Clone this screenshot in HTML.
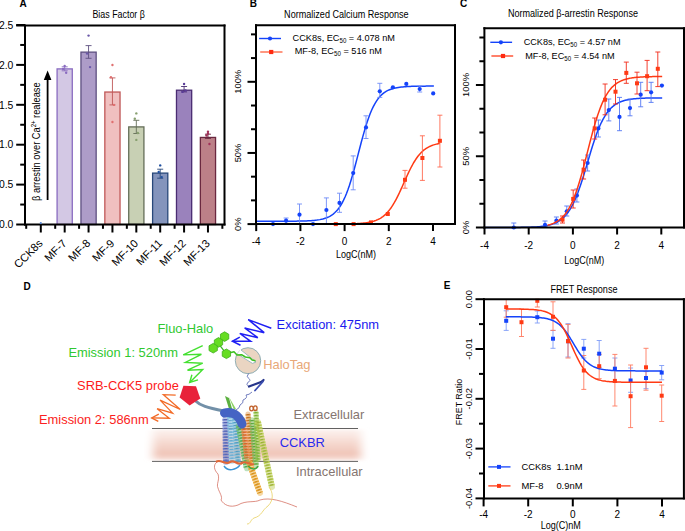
<!DOCTYPE html>
<html><head><meta charset="utf-8"><style>
html,body{margin:0;padding:0;background:#fff;width:685px;height:531px;overflow:hidden}
svg{display:block}
text{font-family:"Liberation Sans", sans-serif}
</style></head><body>
<svg width="685" height="531" viewBox="0 0 685 531" font-family='"Liberation Sans", sans-serif'>
<text x="19.60" y="7.20" font-size="10" text-anchor="start" fill="#000" font-weight="bold" >A</text>
<text x="92.40" y="17.70" font-size="10.2" text-anchor="start" fill="#000" font-weight="normal" textLength="52.5" lengthAdjust="spacingAndGlyphs">Bias Factor β</text>
<rect x="57.08" y="68.89" width="15.2" height="155.61" fill="#d3c8e4" stroke="#8a6cc0" stroke-width="1.3"/>
<line x1="64.68" y1="66.80" x2="64.68" y2="70.80" stroke="#8a6cc0" stroke-width="0.9" />
<line x1="61.68" y1="66.80" x2="67.68" y2="66.80" stroke="#8a6cc0" stroke-width="0.9" />
<line x1="61.68" y1="70.80" x2="67.68" y2="70.80" stroke="#8a6cc0" stroke-width="0.9" />
<circle cx="64.68" cy="66.00" r="1.2" fill="#8a6cc0"/>
<circle cx="63.18" cy="68.90" r="1.2" fill="#8a6cc0"/>
<circle cx="66.18" cy="72.80" r="1.2" fill="#8a6cc0"/>
<rect x="80.96" y="52.13" width="15.2" height="172.37" fill="#ad9cc8" stroke="#5e5080" stroke-width="1.3"/>
<line x1="88.56" y1="45.60" x2="88.56" y2="58.30" stroke="#5e5080" stroke-width="0.9" />
<line x1="85.56" y1="45.60" x2="91.56" y2="45.60" stroke="#5e5080" stroke-width="0.9" />
<line x1="85.56" y1="58.30" x2="91.56" y2="58.30" stroke="#5e5080" stroke-width="0.9" />
<circle cx="88.56" cy="35.60" r="1.2" fill="#6a58a8"/>
<circle cx="87.06" cy="53.60" r="1.2" fill="#6a58a8"/>
<circle cx="90.06" cy="67.10" r="1.2" fill="#6a58a8"/>
<rect x="104.84" y="92.03" width="15.2" height="132.47" fill="#f0c0c0" stroke="#c05858" stroke-width="1.3"/>
<line x1="112.44" y1="77.90" x2="112.44" y2="104.90" stroke="#c05858" stroke-width="0.9" />
<line x1="109.44" y1="77.90" x2="115.44" y2="77.90" stroke="#c05858" stroke-width="0.9" />
<line x1="109.44" y1="104.90" x2="115.44" y2="104.90" stroke="#c05858" stroke-width="0.9" />
<circle cx="112.44" cy="65.00" r="1.2" fill="#e07070"/>
<circle cx="110.94" cy="77.20" r="1.2" fill="#e07070"/>
<circle cx="113.94" cy="104.90" r="1.2" fill="#e07070"/>
<circle cx="112.44" cy="122.00" r="1.2" fill="#e07070"/>
<rect x="128.72" y="126.90" width="15.2" height="97.60" fill="#c8d0b4" stroke="#646e58" stroke-width="1.3"/>
<line x1="136.32" y1="120.30" x2="136.32" y2="133.50" stroke="#646e58" stroke-width="0.9" />
<line x1="133.32" y1="120.30" x2="139.32" y2="120.30" stroke="#646e58" stroke-width="0.9" />
<line x1="133.32" y1="133.50" x2="139.32" y2="133.50" stroke="#646e58" stroke-width="0.9" />
<circle cx="136.32" cy="113.40" r="1.2" fill="#88a070"/>
<circle cx="134.82" cy="118.80" r="1.2" fill="#88a070"/>
<circle cx="137.82" cy="133.00" r="1.2" fill="#88a070"/>
<circle cx="136.32" cy="139.90" r="1.2" fill="#88a070"/>
<rect x="152.60" y="173.11" width="15.2" height="51.39" fill="#8494bc" stroke="#28487a" stroke-width="1.3"/>
<line x1="160.20" y1="169.20" x2="160.20" y2="178.20" stroke="#28487a" stroke-width="0.9" />
<line x1="157.20" y1="169.20" x2="163.20" y2="169.20" stroke="#28487a" stroke-width="0.9" />
<line x1="157.20" y1="178.20" x2="163.20" y2="178.20" stroke="#28487a" stroke-width="0.9" />
<circle cx="160.20" cy="165.40" r="1.2" fill="#2050a0"/>
<circle cx="158.70" cy="172.00" r="1.2" fill="#2050a0"/>
<circle cx="161.70" cy="177.10" r="1.2" fill="#2050a0"/>
<rect x="176.48" y="90.20" width="15.2" height="134.30" fill="#9a82bc" stroke="#4a2c72" stroke-width="1.3"/>
<line x1="184.08" y1="86.50" x2="184.08" y2="91.90" stroke="#4a2c72" stroke-width="0.9" />
<line x1="181.08" y1="86.50" x2="187.08" y2="86.50" stroke="#4a2c72" stroke-width="0.9" />
<line x1="181.08" y1="91.90" x2="187.08" y2="91.90" stroke="#4a2c72" stroke-width="0.9" />
<circle cx="184.08" cy="84.00" r="1.2" fill="#5a3c98"/>
<circle cx="182.58" cy="91.90" r="1.2" fill="#5a3c98"/>
<circle cx="185.58" cy="90.50" r="1.2" fill="#5a3c98"/>
<rect x="200.36" y="137.44" width="15.2" height="87.06" fill="#bc8088" stroke="#6a2840" stroke-width="1.3"/>
<line x1="207.96" y1="134.20" x2="207.96" y2="138.40" stroke="#6a2840" stroke-width="0.9" />
<line x1="204.96" y1="134.20" x2="210.96" y2="134.20" stroke="#6a2840" stroke-width="0.9" />
<line x1="204.96" y1="138.40" x2="210.96" y2="138.40" stroke="#6a2840" stroke-width="0.9" />
<circle cx="207.96" cy="131.80" r="1.2" fill="#a03058"/>
<circle cx="206.46" cy="135.50" r="1.2" fill="#a03058"/>
<circle cx="209.46" cy="144.00" r="1.2" fill="#a03058"/>
<circle cx="207.96" cy="133.50" r="1.2" fill="#a03058"/>
<line x1="25.00" y1="24.50" x2="25.00" y2="225.50" stroke="#000" stroke-width="2" />
<line x1="16.20" y1="25.50" x2="225.50" y2="25.50" stroke="#000" stroke-width="2" />
<line x1="224.50" y1="24.50" x2="224.50" y2="225.50" stroke="#000" stroke-width="2" />
<line x1="24.00" y1="224.50" x2="225.50" y2="224.50" stroke="#000" stroke-width="2" />
<circle cx="40.80" cy="223.2" r="1.1" fill="#5a88d0"/>
<line x1="16.20" y1="224.50" x2="25.00" y2="224.50" stroke="#000" stroke-width="2" />
<text x="13.40" y="228.20" font-size="10.4" text-anchor="end" fill="#000" font-weight="normal" >0.0</text>
<line x1="16.20" y1="184.60" x2="25.00" y2="184.60" stroke="#000" stroke-width="2" />
<text x="13.40" y="188.30" font-size="10.4" text-anchor="end" fill="#000" font-weight="normal" >0.5</text>
<line x1="16.20" y1="144.70" x2="25.00" y2="144.70" stroke="#000" stroke-width="2" />
<text x="13.40" y="148.40" font-size="10.4" text-anchor="end" fill="#000" font-weight="normal" >1.0</text>
<line x1="16.20" y1="104.80" x2="25.00" y2="104.80" stroke="#000" stroke-width="2" />
<text x="13.40" y="108.50" font-size="10.4" text-anchor="end" fill="#000" font-weight="normal" >1.5</text>
<line x1="16.20" y1="64.90" x2="25.00" y2="64.90" stroke="#000" stroke-width="2" />
<text x="13.40" y="68.60" font-size="10.4" text-anchor="end" fill="#000" font-weight="normal" >2.0</text>
<line x1="16.20" y1="25.00" x2="25.00" y2="25.00" stroke="#000" stroke-width="2" />
<text x="13.40" y="28.70" font-size="10.4" text-anchor="end" fill="#000" font-weight="normal" >2.5</text>
<line x1="20.20" y1="204.55" x2="25.00" y2="204.55" stroke="#000" stroke-width="2" />
<line x1="20.20" y1="164.65" x2="25.00" y2="164.65" stroke="#000" stroke-width="2" />
<line x1="20.20" y1="124.75" x2="25.00" y2="124.75" stroke="#000" stroke-width="2" />
<line x1="20.20" y1="84.85" x2="25.00" y2="84.85" stroke="#000" stroke-width="2" />
<line x1="20.20" y1="44.95" x2="25.00" y2="44.95" stroke="#000" stroke-width="2" />
<line x1="40.80" y1="224.50" x2="40.80" y2="232.50" stroke="#000" stroke-width="2" />
<line x1="55.20" y1="224.50" x2="55.20" y2="228.80" stroke="#000" stroke-width="2" />
<text x="43.40" y="244.00" font-size="11.1" text-anchor="end" fill="#000" font-weight="normal" transform="rotate(-45 43.4 244.0)" >CCK8s</text>
<line x1="64.68" y1="224.50" x2="64.68" y2="232.50" stroke="#000" stroke-width="2" />
<line x1="79.08" y1="224.50" x2="79.08" y2="228.80" stroke="#000" stroke-width="2" />
<text x="67.28" y="244.00" font-size="11.1" text-anchor="end" fill="#000" font-weight="normal" transform="rotate(-45 67.27999999999999 244.0)" >MF-7</text>
<line x1="88.56" y1="224.50" x2="88.56" y2="232.50" stroke="#000" stroke-width="2" />
<line x1="102.96" y1="224.50" x2="102.96" y2="228.80" stroke="#000" stroke-width="2" />
<text x="91.16" y="244.00" font-size="11.1" text-anchor="end" fill="#000" font-weight="normal" transform="rotate(-45 91.16 244.0)" >MF-8</text>
<line x1="112.44" y1="224.50" x2="112.44" y2="232.50" stroke="#000" stroke-width="2" />
<line x1="126.84" y1="224.50" x2="126.84" y2="228.80" stroke="#000" stroke-width="2" />
<text x="115.04" y="244.00" font-size="11.1" text-anchor="end" fill="#000" font-weight="normal" transform="rotate(-45 115.03999999999999 244.0)" >MF-9</text>
<line x1="136.32" y1="224.50" x2="136.32" y2="232.50" stroke="#000" stroke-width="2" />
<line x1="150.72" y1="224.50" x2="150.72" y2="228.80" stroke="#000" stroke-width="2" />
<text x="138.92" y="244.00" font-size="11.1" text-anchor="end" fill="#000" font-weight="normal" transform="rotate(-45 138.92 244.0)" >MF-10</text>
<line x1="160.20" y1="224.50" x2="160.20" y2="232.50" stroke="#000" stroke-width="2" />
<line x1="174.60" y1="224.50" x2="174.60" y2="228.80" stroke="#000" stroke-width="2" />
<text x="162.80" y="244.00" font-size="11.1" text-anchor="end" fill="#000" font-weight="normal" transform="rotate(-45 162.79999999999998 244.0)" >MF-11</text>
<line x1="184.08" y1="224.50" x2="184.08" y2="232.50" stroke="#000" stroke-width="2" />
<line x1="198.48" y1="224.50" x2="198.48" y2="228.80" stroke="#000" stroke-width="2" />
<text x="186.68" y="244.00" font-size="11.1" text-anchor="end" fill="#000" font-weight="normal" transform="rotate(-45 186.67999999999998 244.0)" >MF-12</text>
<line x1="207.96" y1="224.50" x2="207.96" y2="232.50" stroke="#000" stroke-width="2" />
<line x1="222.36" y1="224.50" x2="222.36" y2="228.80" stroke="#000" stroke-width="2" />
<text x="210.56" y="244.00" font-size="11.1" text-anchor="end" fill="#000" font-weight="normal" transform="rotate(-45 210.55999999999997 244.0)" >MF-13</text>
<line x1="26.20" y1="224.50" x2="26.20" y2="228.80" stroke="#000" stroke-width="2" />
<text x="40.5" y="201.2" font-size="10.4" textLength="118.6" lengthAdjust="spacingAndGlyphs" transform="rotate(-90 40.3 201.2)" fill="#000">β arrestin over Ca<tspan font-size="6.8" dy="-4.3">2+</tspan><tspan dy="4.3"> realease</tspan></text>
<line x1="47.60" y1="79.00" x2="47.60" y2="200.00" stroke="#000" stroke-width="1.8" />
<polygon points="47.6,70.5 43.8,80 51.4,80" fill="#000"/>
<text x="249.80" y="7.00" font-size="10" text-anchor="start" fill="#000" font-weight="bold" >B</text>
<text x="284.10" y="17.80" font-size="10" text-anchor="start" fill="#000" font-weight="normal" textLength="124.5" lengthAdjust="spacingAndGlyphs">Normalized Calcium Response</text>
<polyline points="256.20,221.25 257.68,221.25 259.16,221.25 260.64,221.25 262.12,221.25 263.60,221.25 265.08,221.25 266.56,221.25 268.05,221.25 269.53,221.25 271.01,221.25 272.49,221.25 273.97,221.25 275.45,221.24 276.93,221.24 278.41,221.24 279.89,221.24 281.37,221.23 282.85,221.23 284.33,221.23 285.81,221.22 287.29,221.21 288.78,221.21 290.26,221.20 291.74,221.19 293.22,221.18 294.70,221.16 296.18,221.14 297.66,221.12 299.14,221.10 300.62,221.07 302.10,221.04 303.58,221.00 305.06,220.95 306.54,220.90 308.02,220.83 309.51,220.75 310.99,220.66 312.47,220.55 313.95,220.42 315.43,220.27 316.91,220.09 318.39,219.87 319.87,219.62 321.35,219.32 322.83,218.97 324.31,218.56 325.79,218.07 327.27,217.50 328.75,216.83 330.24,216.04 331.72,215.12 333.20,214.05 334.68,212.80 336.16,211.35 337.64,209.68 339.12,207.75 340.60,205.54 342.08,203.03 343.56,200.18 345.04,196.99 346.52,193.42 348.00,189.49 349.48,185.18 350.96,180.52 352.45,175.53 353.93,170.26 355.41,164.77 356.89,159.13 358.37,153.40 359.85,147.69 361.33,142.05 362.81,136.58 364.29,131.33 365.77,126.38 367.25,121.74 368.73,117.47 370.21,113.57 371.69,110.03 373.18,106.87 374.66,104.05 376.14,101.57 377.62,99.39 379.10,97.48 380.58,95.83 382.06,94.40 383.54,93.17 385.02,92.11 386.50,91.20 387.98,90.43 389.46,89.77 390.94,89.20 392.42,88.72 393.91,88.32 395.39,87.97 396.87,87.68 398.35,87.43 399.83,87.22 401.31,87.04 402.79,86.89 404.27,86.76 405.75,86.65 407.23,86.56 408.71,86.49 410.19,86.42 411.67,86.37 413.15,86.32 414.63,86.28 416.12,86.25 417.60,86.22 419.08,86.20 420.56,86.18 422.04,86.16 423.52,86.15 425.00,86.13 426.48,86.12 427.96,86.12 429.44,86.11 430.92,86.10 432.40,86.10 433.88,86.09" fill="none" stroke="#1443fa" stroke-width="1.5"/>
<g stroke="#6f8cf7" stroke-width="0.9">
<line x1="286.10" y1="218.00" x2="286.10" y2="223.50" stroke="#6f8cf7" stroke-width="0.9" />
<line x1="283.60" y1="218.00" x2="288.60" y2="218.00" stroke="#6f8cf7" stroke-width="0.9" />
<line x1="283.60" y1="223.50" x2="288.60" y2="223.50" stroke="#6f8cf7" stroke-width="0.9" />
</g>
<g stroke="#6f8cf7" stroke-width="0.9">
<line x1="299.50" y1="204.00" x2="299.50" y2="224.00" stroke="#6f8cf7" stroke-width="0.9" />
<line x1="297.00" y1="204.00" x2="302.00" y2="204.00" stroke="#6f8cf7" stroke-width="0.9" />
<line x1="297.00" y1="224.00" x2="302.00" y2="224.00" stroke="#6f8cf7" stroke-width="0.9" />
</g>
<g stroke="#6f8cf7" stroke-width="0.9">
<line x1="326.40" y1="197.90" x2="326.40" y2="224.00" stroke="#6f8cf7" stroke-width="0.9" />
<line x1="323.90" y1="197.90" x2="328.90" y2="197.90" stroke="#6f8cf7" stroke-width="0.9" />
<line x1="323.90" y1="224.00" x2="328.90" y2="224.00" stroke="#6f8cf7" stroke-width="0.9" />
</g>
<g stroke="#6f8cf7" stroke-width="0.9">
<line x1="339.50" y1="193.20" x2="339.50" y2="212.30" stroke="#6f8cf7" stroke-width="0.9" />
<line x1="337.00" y1="193.20" x2="342.00" y2="193.20" stroke="#6f8cf7" stroke-width="0.9" />
<line x1="337.00" y1="212.30" x2="342.00" y2="212.30" stroke="#6f8cf7" stroke-width="0.9" />
</g>
<g stroke="#6f8cf7" stroke-width="0.9">
<line x1="353.20" y1="155.90" x2="353.20" y2="189.80" stroke="#6f8cf7" stroke-width="0.9" />
<line x1="350.70" y1="155.90" x2="355.70" y2="155.90" stroke="#6f8cf7" stroke-width="0.9" />
<line x1="350.70" y1="189.80" x2="355.70" y2="189.80" stroke="#6f8cf7" stroke-width="0.9" />
</g>
<g stroke="#6f8cf7" stroke-width="0.9">
<line x1="366.00" y1="115.80" x2="366.00" y2="138.50" stroke="#6f8cf7" stroke-width="0.9" />
<line x1="363.50" y1="115.80" x2="368.50" y2="115.80" stroke="#6f8cf7" stroke-width="0.9" />
<line x1="363.50" y1="138.50" x2="368.50" y2="138.50" stroke="#6f8cf7" stroke-width="0.9" />
</g>
<g stroke="#6f8cf7" stroke-width="0.9">
<line x1="379.80" y1="83.30" x2="379.80" y2="97.40" stroke="#6f8cf7" stroke-width="0.9" />
<line x1="377.30" y1="83.30" x2="382.30" y2="83.30" stroke="#6f8cf7" stroke-width="0.9" />
<line x1="377.30" y1="97.40" x2="382.30" y2="97.40" stroke="#6f8cf7" stroke-width="0.9" />
</g>
<g stroke="#6f8cf7" stroke-width="0.9">
<line x1="419.70" y1="86.00" x2="419.70" y2="92.00" stroke="#6f8cf7" stroke-width="0.9" />
<line x1="417.20" y1="86.00" x2="422.20" y2="86.00" stroke="#6f8cf7" stroke-width="0.9" />
<line x1="417.20" y1="92.00" x2="422.20" y2="92.00" stroke="#6f8cf7" stroke-width="0.9" />
</g>
<circle cx="273.00" cy="224.10" r="2.1" fill="#1443fa"/>
<circle cx="286.10" cy="220.70" r="2.1" fill="#1443fa"/>
<circle cx="299.50" cy="214.70" r="2.1" fill="#1443fa"/>
<circle cx="313.00" cy="224.10" r="2.1" fill="#1443fa"/>
<circle cx="326.40" cy="210.00" r="2.1" fill="#1443fa"/>
<circle cx="339.50" cy="202.90" r="2.1" fill="#1443fa"/>
<circle cx="353.20" cy="173.10" r="2.1" fill="#1443fa"/>
<circle cx="366.00" cy="127.40" r="2.1" fill="#1443fa"/>
<circle cx="379.80" cy="91.30" r="2.1" fill="#1443fa"/>
<circle cx="392.90" cy="87.30" r="2.1" fill="#1443fa"/>
<circle cx="406.30" cy="83.90" r="2.1" fill="#1443fa"/>
<circle cx="419.70" cy="89.00" r="2.1" fill="#1443fa"/>
<circle cx="433.20" cy="93.40" r="2.1" fill="#1443fa"/>
<polyline points="334.65,224.06 335.53,224.05 336.41,224.05 337.28,224.04 338.16,224.04 339.04,224.03 339.91,224.02 340.79,224.02 341.67,224.01 342.54,224.00 343.42,223.99 344.30,223.98 345.17,223.97 346.05,223.95 346.93,223.94 347.80,223.92 348.68,223.90 349.56,223.88 350.43,223.86 351.31,223.84 352.19,223.81 353.06,223.78 353.94,223.75 354.82,223.72 355.69,223.68 356.57,223.64 357.45,223.59 358.32,223.54 359.20,223.48 360.08,223.42 360.95,223.35 361.83,223.28 362.71,223.20 363.58,223.11 364.46,223.01 365.34,222.90 366.21,222.78 367.09,222.65 367.97,222.50 368.84,222.35 369.72,222.18 370.60,221.99 371.47,221.78 372.35,221.55 373.23,221.31 374.10,221.04 374.98,220.74 375.86,220.42 376.73,220.06 377.61,219.68 378.49,219.26 379.36,218.80 380.24,218.31 381.12,217.77 381.99,217.19 382.87,216.56 383.75,215.87 384.62,215.13 385.50,214.34 386.38,213.48 387.25,212.57 388.13,211.58 389.01,210.53 389.88,209.41 390.76,208.21 391.64,206.95 392.51,205.61 393.39,204.20 394.27,202.72 395.14,201.16 396.02,199.55 396.90,197.86 397.77,196.12 398.65,194.32 399.53,192.48 400.40,190.59 401.28,188.67 402.16,186.73 403.03,184.76 403.91,182.79 404.79,180.82 405.66,178.86 406.54,176.92 407.42,175.01 408.29,173.13 409.17,171.29 410.05,169.50 410.92,167.77 411.80,166.10 412.68,164.49 413.55,162.95 414.43,161.49 415.31,160.09 416.18,158.76 417.06,157.51 417.94,156.33 418.81,155.22 419.69,154.18 420.57,153.21 421.44,152.30 422.32,151.46 423.19,150.68 424.07,149.95 424.95,149.27 425.82,148.65 426.70,148.08 427.58,147.55 428.45,147.06 429.33,146.61 430.21,146.20 431.08,145.82 431.96,145.47 432.84,145.15 433.71,144.86 434.59,144.60 435.47,144.35 436.34,144.13 437.22,143.93 438.10,143.74 438.97,143.57 439.85,143.42" fill="none" stroke="#ff3a14" stroke-width="1.5"/>
<g stroke="#ff6a50" stroke-width="0.9">
<line x1="405.00" y1="170.40" x2="405.00" y2="188.20" stroke="#ff6a50" stroke-width="0.9" />
<line x1="402.50" y1="170.40" x2="407.50" y2="170.40" stroke="#ff6a50" stroke-width="0.9" />
<line x1="402.50" y1="188.20" x2="407.50" y2="188.20" stroke="#ff6a50" stroke-width="0.9" />
</g>
<g stroke="#ff6a50" stroke-width="0.9">
<line x1="422.40" y1="135.80" x2="422.40" y2="180.40" stroke="#ff6a50" stroke-width="0.9" />
<line x1="419.90" y1="135.80" x2="424.90" y2="135.80" stroke="#ff6a50" stroke-width="0.9" />
<line x1="419.90" y1="180.40" x2="424.90" y2="180.40" stroke="#ff6a50" stroke-width="0.9" />
</g>
<g stroke="#ff6a50" stroke-width="0.9">
<line x1="439.90" y1="115.20" x2="439.90" y2="167.00" stroke="#ff6a50" stroke-width="0.9" />
<line x1="437.40" y1="115.20" x2="442.40" y2="115.20" stroke="#ff6a50" stroke-width="0.9" />
<line x1="437.40" y1="167.00" x2="442.40" y2="167.00" stroke="#ff6a50" stroke-width="0.9" />
</g>
<rect x="333.80" y="222.10" width="4" height="4" fill="#ff3a14"/>
<rect x="351.60" y="222.10" width="4" height="4" fill="#ff3a14"/>
<rect x="369.00" y="220.40" width="4" height="4" fill="#ff3a14"/>
<rect x="385.80" y="212.00" width="4" height="4" fill="#ff3a14"/>
<rect x="403.00" y="177.80" width="4" height="4" fill="#ff3a14"/>
<rect x="420.40" y="156.00" width="4" height="4" fill="#ff3a14"/>
<rect x="437.90" y="138.80" width="4" height="4" fill="#ff3a14"/>
<line x1="256.00" y1="24.30" x2="256.00" y2="225.10" stroke="#000" stroke-width="2" />
<line x1="255.00" y1="25.30" x2="456.00" y2="25.30" stroke="#000" stroke-width="2" />
<line x1="455.00" y1="24.30" x2="455.00" y2="225.10" stroke="#000" stroke-width="2" />
<line x1="255.00" y1="224.10" x2="456.00" y2="224.10" stroke="#000" stroke-width="2" />
<line x1="247.50" y1="224.10" x2="256.00" y2="224.10" stroke="#000" stroke-width="2" />
<line x1="247.50" y1="152.95" x2="256.00" y2="152.95" stroke="#000" stroke-width="2" />
<line x1="247.50" y1="81.80" x2="256.00" y2="81.80" stroke="#000" stroke-width="2" />
<line x1="251.00" y1="200.38" x2="256.00" y2="200.38" stroke="#000" stroke-width="2" />
<line x1="251.00" y1="176.67" x2="256.00" y2="176.67" stroke="#000" stroke-width="2" />
<line x1="251.00" y1="129.23" x2="256.00" y2="129.23" stroke="#000" stroke-width="2" />
<line x1="251.00" y1="105.52" x2="256.00" y2="105.52" stroke="#000" stroke-width="2" />
<line x1="251.00" y1="58.08" x2="256.00" y2="58.08" stroke="#000" stroke-width="2" />
<line x1="251.00" y1="34.37" x2="256.00" y2="34.37" stroke="#000" stroke-width="2" />
<text x="241.5" y="224.10" font-size="9.4" text-anchor="middle" transform="rotate(-90 241.5 224.10)">0%</text>
<text x="241.5" y="152.95" font-size="9.4" text-anchor="middle" transform="rotate(-90 241.5 152.95)">50%</text>
<text x="241.5" y="81.80" font-size="9.4" text-anchor="middle" transform="rotate(-90 241.5 81.80)">100%</text>
<line x1="256.20" y1="224.10" x2="256.20" y2="231.10" stroke="#000" stroke-width="2" />
<text x="256.20" y="245.10" font-size="10" text-anchor="middle" fill="#000" font-weight="normal" >-4</text>
<line x1="300.40" y1="224.10" x2="300.40" y2="231.10" stroke="#000" stroke-width="2" />
<text x="300.40" y="245.10" font-size="10" text-anchor="middle" fill="#000" font-weight="normal" >-2</text>
<line x1="344.60" y1="224.10" x2="344.60" y2="231.10" stroke="#000" stroke-width="2" />
<text x="344.60" y="245.10" font-size="10" text-anchor="middle" fill="#000" font-weight="normal" >0</text>
<line x1="388.80" y1="224.10" x2="388.80" y2="231.10" stroke="#000" stroke-width="2" />
<text x="388.80" y="245.10" font-size="10" text-anchor="middle" fill="#000" font-weight="normal" >2</text>
<line x1="433.00" y1="224.10" x2="433.00" y2="231.10" stroke="#000" stroke-width="2" />
<text x="433.00" y="245.10" font-size="10" text-anchor="middle" fill="#000" font-weight="normal" >4</text>
<text x="355.90" y="257.80" font-size="10.4" text-anchor="middle" fill="#000" font-weight="normal" textLength="40" lengthAdjust="spacingAndGlyphs">LogC(nM)</text>
<line x1="259.10" y1="38.50" x2="281.00" y2="38.50" stroke="#1443fa" stroke-width="1.4" />
<circle cx="270.00" cy="38.50" r="2.1" fill="#1443fa"/>
<text x="292.6" y="41.40" font-size="9.4" textLength="102.4" lengthAdjust="spacingAndGlyphs">CCK8s, EC<tspan font-size="6.3" dy="2">50</tspan><tspan dy="-2"> = 4.078 nM</tspan></text>
<line x1="260.20" y1="52.00" x2="282.50" y2="52.00" stroke="#ff6a4a" stroke-width="1.4" />
<rect x="269.10" y="49.90" width="4.2" height="4.2" fill="#ff2a10"/>
<text x="294.7" y="54.30" font-size="9.4" textLength="87.3" lengthAdjust="spacingAndGlyphs">MF-8, EC<tspan font-size="6.3" dy="2">50</tspan><tspan dy="-2"> = 516 nM</tspan></text>
<text x="460.00" y="7.00" font-size="10" text-anchor="start" fill="#000" font-weight="bold" >C</text>
<text x="507.90" y="17.30" font-size="10" text-anchor="start" fill="#000" font-weight="normal" textLength="130.1" lengthAdjust="spacingAndGlyphs">Normalized β-arrestin Response</text>
<polyline points="484.50,227.50 485.98,227.50 487.46,227.50 488.94,227.50 490.42,227.49 491.90,227.49 493.38,227.49 494.86,227.49 496.35,227.49 497.83,227.49 499.31,227.49 500.79,227.48 502.27,227.48 503.75,227.48 505.23,227.48 506.71,227.47 508.19,227.47 509.67,227.46 511.15,227.45 512.63,227.45 514.11,227.44 515.59,227.43 517.08,227.42 518.56,227.40 520.04,227.39 521.52,227.37 523.00,227.34 524.48,227.32 525.96,227.29 527.44,227.25 528.92,227.21 530.40,227.16 531.88,227.11 533.36,227.04 534.84,226.96 536.32,226.88 537.81,226.77 539.29,226.65 540.77,226.51 542.25,226.35 543.73,226.16 545.21,225.93 546.69,225.68 548.17,225.38 549.65,225.03 551.13,224.63 552.61,224.16 554.09,223.62 555.57,223.00 557.05,222.28 558.53,221.45 560.02,220.49 561.50,219.39 562.98,218.14 564.46,216.71 565.94,215.08 567.42,213.24 568.90,211.16 570.38,208.82 571.86,206.22 573.34,203.33 574.82,200.15 576.30,196.67 577.78,192.90 579.26,188.85 580.75,184.54 582.23,180.00 583.71,175.26 585.19,170.39 586.67,165.42 588.15,160.42 589.63,155.45 591.11,150.56 592.59,145.81 594.07,141.25 595.55,136.91 597.03,132.83 598.51,129.03 599.99,125.53 601.48,122.31 602.96,119.39 604.44,116.76 605.92,114.40 607.40,112.30 608.88,110.43 610.36,108.78 611.84,107.33 613.32,106.05 614.80,104.94 616.28,103.97 617.76,103.13 619.24,102.40 620.72,101.76 622.21,101.22 623.69,100.74 625.17,100.33 626.65,99.98 628.13,99.68 629.61,99.42 631.09,99.19 632.57,99.00 634.05,98.83 635.53,98.69 637.01,98.57 638.49,98.46 639.97,98.37 641.45,98.29 642.93,98.23 644.42,98.17 645.90,98.12 647.38,98.08 648.86,98.04 650.34,98.01 651.82,97.98 653.30,97.96 654.78,97.94 656.26,97.93 657.74,97.91 659.22,97.90 660.70,97.89 662.18,97.88" fill="none" stroke="#1443fa" stroke-width="1.5"/>
<g stroke="#5578f4" stroke-width="0.9">
<line x1="513.80" y1="223.00" x2="513.80" y2="228.00" stroke="#5578f4" stroke-width="0.9" />
<line x1="511.30" y1="223.00" x2="516.30" y2="223.00" stroke="#5578f4" stroke-width="0.9" />
<line x1="511.30" y1="228.00" x2="516.30" y2="228.00" stroke="#5578f4" stroke-width="0.9" />
</g>
<g stroke="#5578f4" stroke-width="0.9">
<line x1="545.00" y1="221.00" x2="545.00" y2="227.00" stroke="#5578f4" stroke-width="0.9" />
<line x1="542.50" y1="221.00" x2="547.50" y2="221.00" stroke="#5578f4" stroke-width="0.9" />
<line x1="542.50" y1="227.00" x2="547.50" y2="227.00" stroke="#5578f4" stroke-width="0.9" />
</g>
<g stroke="#5578f4" stroke-width="0.9">
<line x1="556.40" y1="217.00" x2="556.40" y2="224.00" stroke="#5578f4" stroke-width="0.9" />
<line x1="553.90" y1="217.00" x2="558.90" y2="217.00" stroke="#5578f4" stroke-width="0.9" />
<line x1="553.90" y1="224.00" x2="558.90" y2="224.00" stroke="#5578f4" stroke-width="0.9" />
</g>
<g stroke="#5578f4" stroke-width="0.9">
<line x1="566.80" y1="206.00" x2="566.80" y2="216.00" stroke="#5578f4" stroke-width="0.9" />
<line x1="564.30" y1="206.00" x2="569.30" y2="206.00" stroke="#5578f4" stroke-width="0.9" />
<line x1="564.30" y1="216.00" x2="569.30" y2="216.00" stroke="#5578f4" stroke-width="0.9" />
</g>
<g stroke="#5578f4" stroke-width="0.9">
<line x1="576.90" y1="189.00" x2="576.90" y2="202.00" stroke="#5578f4" stroke-width="0.9" />
<line x1="574.40" y1="189.00" x2="579.40" y2="189.00" stroke="#5578f4" stroke-width="0.9" />
<line x1="574.40" y1="202.00" x2="579.40" y2="202.00" stroke="#5578f4" stroke-width="0.9" />
</g>
<g stroke="#5578f4" stroke-width="0.9">
<line x1="587.60" y1="155.00" x2="587.60" y2="171.00" stroke="#5578f4" stroke-width="0.9" />
<line x1="585.10" y1="155.00" x2="590.10" y2="155.00" stroke="#5578f4" stroke-width="0.9" />
<line x1="585.10" y1="171.00" x2="590.10" y2="171.00" stroke="#5578f4" stroke-width="0.9" />
</g>
<g stroke="#5578f4" stroke-width="0.9">
<line x1="598.40" y1="120.00" x2="598.40" y2="137.00" stroke="#5578f4" stroke-width="0.9" />
<line x1="595.90" y1="120.00" x2="600.90" y2="120.00" stroke="#5578f4" stroke-width="0.9" />
<line x1="595.90" y1="137.00" x2="600.90" y2="137.00" stroke="#5578f4" stroke-width="0.9" />
</g>
<g stroke="#5578f4" stroke-width="0.9">
<line x1="608.80" y1="99.00" x2="608.80" y2="120.90" stroke="#5578f4" stroke-width="0.9" />
<line x1="606.30" y1="99.00" x2="611.30" y2="99.00" stroke="#5578f4" stroke-width="0.9" />
<line x1="606.30" y1="120.90" x2="611.30" y2="120.90" stroke="#5578f4" stroke-width="0.9" />
</g>
<g stroke="#5578f4" stroke-width="0.9">
<line x1="619.50" y1="97.40" x2="619.50" y2="130.70" stroke="#5578f4" stroke-width="0.9" />
<line x1="617.00" y1="97.40" x2="622.00" y2="97.40" stroke="#5578f4" stroke-width="0.9" />
<line x1="617.00" y1="130.70" x2="622.00" y2="130.70" stroke="#5578f4" stroke-width="0.9" />
</g>
<g stroke="#5578f4" stroke-width="0.9">
<line x1="630.00" y1="99.00" x2="630.00" y2="115.80" stroke="#5578f4" stroke-width="0.9" />
<line x1="627.50" y1="99.00" x2="632.50" y2="99.00" stroke="#5578f4" stroke-width="0.9" />
<line x1="627.50" y1="115.80" x2="632.50" y2="115.80" stroke="#5578f4" stroke-width="0.9" />
</g>
<g stroke="#5578f4" stroke-width="0.9">
<line x1="640.70" y1="82.30" x2="640.70" y2="106.80" stroke="#5578f4" stroke-width="0.9" />
<line x1="638.20" y1="82.30" x2="643.20" y2="82.30" stroke="#5578f4" stroke-width="0.9" />
<line x1="638.20" y1="106.80" x2="643.20" y2="106.80" stroke="#5578f4" stroke-width="0.9" />
</g>
<g stroke="#5578f4" stroke-width="0.9">
<line x1="651.10" y1="82.30" x2="651.10" y2="102.40" stroke="#5578f4" stroke-width="0.9" />
<line x1="648.60" y1="82.30" x2="653.60" y2="82.30" stroke="#5578f4" stroke-width="0.9" />
<line x1="648.60" y1="102.40" x2="653.60" y2="102.40" stroke="#5578f4" stroke-width="0.9" />
</g>
<circle cx="513.80" cy="227.50" r="2.1" fill="#1443fa"/>
<circle cx="545.00" cy="224.80" r="2.1" fill="#1443fa"/>
<circle cx="556.40" cy="220.70" r="2.1" fill="#1443fa"/>
<circle cx="566.80" cy="211.30" r="2.1" fill="#1443fa"/>
<circle cx="576.90" cy="195.60" r="2.1" fill="#1443fa"/>
<circle cx="587.60" cy="163.00" r="2.1" fill="#1443fa"/>
<circle cx="598.40" cy="128.40" r="2.1" fill="#1443fa"/>
<circle cx="608.80" cy="110.10" r="2.1" fill="#1443fa"/>
<circle cx="619.50" cy="116.90" r="2.1" fill="#1443fa"/>
<circle cx="630.00" cy="108.10" r="2.1" fill="#1443fa"/>
<circle cx="640.70" cy="94.70" r="2.1" fill="#1443fa"/>
<circle cx="651.10" cy="92.30" r="2.1" fill="#1443fa"/>
<circle cx="661.90" cy="85.60" r="2.1" fill="#1443fa"/>
<polyline points="547.49,225.20 548.44,224.96 549.40,224.70 550.35,224.41 551.31,224.09 552.26,223.75 553.22,223.36 554.18,222.94 555.13,222.48 556.09,221.98 557.04,221.42 558.00,220.81 558.95,220.15 559.91,219.42 560.87,218.62 561.82,217.75 562.78,216.80 563.73,215.77 564.69,214.65 565.65,213.43 566.60,212.10 567.56,210.67 568.51,209.12 569.47,207.45 570.42,205.66 571.38,203.73 572.34,201.67 573.29,199.46 574.25,197.12 575.20,194.63 576.16,192.00 577.12,189.22 578.07,186.31 579.03,183.26 579.98,180.08 580.94,176.78 581.89,173.37 582.85,169.87 583.81,166.28 584.76,162.62 585.72,158.91 586.67,155.17 587.63,151.41 588.59,147.65 589.54,143.92 590.50,140.22 591.45,136.59 592.41,133.02 593.36,129.54 594.32,126.17 595.28,122.90 596.23,119.76 597.19,116.75 598.14,113.88 599.10,111.15 600.06,108.56 601.01,106.11 601.97,103.81 602.92,101.65 603.88,99.63 604.83,97.74 605.79,95.98 606.75,94.35 607.70,92.84 608.66,91.44 609.61,90.15 610.57,88.96 611.53,87.86 612.48,86.85 613.44,85.93 614.39,85.08 615.35,84.31 616.30,83.60 617.26,82.95 618.22,82.36 619.17,81.82 620.13,81.32 621.08,80.88 622.04,80.47 623.00,80.10 623.95,79.76 624.91,79.45 625.86,79.17 626.82,78.92 627.77,78.69 628.73,78.48 629.69,78.29 630.64,78.12 631.60,77.96 632.55,77.82 633.51,77.69 634.47,77.57 635.42,77.47 636.38,77.37 637.33,77.28 638.29,77.21 639.24,77.13 640.20,77.07 641.16,77.01 642.11,76.96 643.07,76.91 644.02,76.87 644.98,76.83 645.93,76.79 646.89,76.76 647.85,76.73 648.80,76.70 649.76,76.68 650.71,76.66 651.67,76.64 652.63,76.62 653.58,76.60 654.54,76.59 655.49,76.58 656.45,76.56 657.40,76.55 658.36,76.54 659.32,76.53 660.27,76.53 661.23,76.52 662.18,76.51" fill="none" stroke="#ff3a14" stroke-width="1.5"/>
<g stroke="#f22a18" stroke-width="0.9">
<line x1="562.50" y1="216.00" x2="562.50" y2="223.00" stroke="#f22a18" stroke-width="0.9" />
<line x1="560.00" y1="216.00" x2="565.00" y2="216.00" stroke="#f22a18" stroke-width="0.9" />
<line x1="560.00" y1="223.00" x2="565.00" y2="223.00" stroke="#f22a18" stroke-width="0.9" />
</g>
<g stroke="#f22a18" stroke-width="0.9">
<line x1="573.20" y1="190.00" x2="573.20" y2="208.00" stroke="#f22a18" stroke-width="0.9" />
<line x1="570.70" y1="190.00" x2="575.70" y2="190.00" stroke="#f22a18" stroke-width="0.9" />
<line x1="570.70" y1="208.00" x2="575.70" y2="208.00" stroke="#f22a18" stroke-width="0.9" />
</g>
<g stroke="#f22a18" stroke-width="0.9">
<line x1="583.60" y1="160.00" x2="583.60" y2="179.00" stroke="#f22a18" stroke-width="0.9" />
<line x1="581.10" y1="160.00" x2="586.10" y2="160.00" stroke="#f22a18" stroke-width="0.9" />
<line x1="581.10" y1="179.00" x2="586.10" y2="179.00" stroke="#f22a18" stroke-width="0.9" />
</g>
<g stroke="#f22a18" stroke-width="0.9">
<line x1="594.70" y1="118.00" x2="594.70" y2="139.00" stroke="#f22a18" stroke-width="0.9" />
<line x1="592.20" y1="118.00" x2="597.20" y2="118.00" stroke="#f22a18" stroke-width="0.9" />
<line x1="592.20" y1="139.00" x2="597.20" y2="139.00" stroke="#f22a18" stroke-width="0.9" />
</g>
<g stroke="#f22a18" stroke-width="0.9">
<line x1="605.10" y1="84.00" x2="605.10" y2="114.80" stroke="#f22a18" stroke-width="0.9" />
<line x1="602.60" y1="84.00" x2="607.60" y2="84.00" stroke="#f22a18" stroke-width="0.9" />
<line x1="602.60" y1="114.80" x2="607.60" y2="114.80" stroke="#f22a18" stroke-width="0.9" />
</g>
<g stroke="#f22a18" stroke-width="0.9">
<line x1="615.50" y1="79.60" x2="615.50" y2="104.00" stroke="#f22a18" stroke-width="0.9" />
<line x1="613.00" y1="79.60" x2="618.00" y2="79.60" stroke="#f22a18" stroke-width="0.9" />
<line x1="613.00" y1="104.00" x2="618.00" y2="104.00" stroke="#f22a18" stroke-width="0.9" />
</g>
<g stroke="#f22a18" stroke-width="0.9">
<line x1="626.30" y1="62.10" x2="626.30" y2="83.30" stroke="#f22a18" stroke-width="0.9" />
<line x1="623.80" y1="62.10" x2="628.80" y2="62.10" stroke="#f22a18" stroke-width="0.9" />
<line x1="623.80" y1="83.30" x2="628.80" y2="83.30" stroke="#f22a18" stroke-width="0.9" />
</g>
<g stroke="#f22a18" stroke-width="0.9">
<line x1="637.00" y1="72.20" x2="637.00" y2="94.00" stroke="#f22a18" stroke-width="0.9" />
<line x1="634.50" y1="72.20" x2="639.50" y2="72.20" stroke="#f22a18" stroke-width="0.9" />
<line x1="634.50" y1="94.00" x2="639.50" y2="94.00" stroke="#f22a18" stroke-width="0.9" />
</g>
<g stroke="#f22a18" stroke-width="0.9">
<line x1="647.10" y1="60.40" x2="647.10" y2="90.70" stroke="#f22a18" stroke-width="0.9" />
<line x1="644.60" y1="60.40" x2="649.60" y2="60.40" stroke="#f22a18" stroke-width="0.9" />
<line x1="644.60" y1="90.70" x2="649.60" y2="90.70" stroke="#f22a18" stroke-width="0.9" />
</g>
<g stroke="#f22a18" stroke-width="0.9">
<line x1="657.80" y1="52.00" x2="657.80" y2="86.60" stroke="#f22a18" stroke-width="0.9" />
<line x1="655.30" y1="52.00" x2="660.30" y2="52.00" stroke="#f22a18" stroke-width="0.9" />
<line x1="655.30" y1="86.60" x2="660.30" y2="86.60" stroke="#f22a18" stroke-width="0.9" />
</g>
<rect x="560.50" y="217.70" width="4" height="4" fill="#ff3a14"/>
<rect x="571.20" y="196.90" width="4" height="4" fill="#ff3a14"/>
<rect x="581.60" y="167.70" width="4" height="4" fill="#ff3a14"/>
<rect x="592.70" y="126.40" width="4" height="4" fill="#ff3a14"/>
<rect x="603.10" y="97.70" width="4" height="4" fill="#ff3a14"/>
<rect x="613.50" y="89.70" width="4" height="4" fill="#ff3a14"/>
<rect x="624.30" y="70.90" width="4" height="4" fill="#ff3a14"/>
<rect x="635.00" y="81.30" width="4" height="4" fill="#ff3a14"/>
<rect x="645.10" y="74.20" width="4" height="4" fill="#ff3a14"/>
<rect x="655.80" y="66.80" width="4" height="4" fill="#ff3a14"/>
<line x1="484.40" y1="27.20" x2="484.40" y2="228.50" stroke="#000" stroke-width="2" />
<line x1="483.40" y1="28.20" x2="685.00" y2="28.20" stroke="#000" stroke-width="2" />
<line x1="684.00" y1="27.20" x2="684.00" y2="228.50" stroke="#000" stroke-width="2" />
<line x1="483.40" y1="227.50" x2="685.00" y2="227.50" stroke="#000" stroke-width="2" />
<line x1="475.90" y1="227.50" x2="484.40" y2="227.50" stroke="#000" stroke-width="2" />
<line x1="475.90" y1="156.25" x2="484.40" y2="156.25" stroke="#000" stroke-width="2" />
<line x1="475.90" y1="85.00" x2="484.40" y2="85.00" stroke="#000" stroke-width="2" />
<line x1="479.40" y1="203.75" x2="484.40" y2="203.75" stroke="#000" stroke-width="2" />
<line x1="479.40" y1="180.00" x2="484.40" y2="180.00" stroke="#000" stroke-width="2" />
<line x1="479.40" y1="132.50" x2="484.40" y2="132.50" stroke="#000" stroke-width="2" />
<line x1="479.40" y1="108.75" x2="484.40" y2="108.75" stroke="#000" stroke-width="2" />
<line x1="479.40" y1="61.25" x2="484.40" y2="61.25" stroke="#000" stroke-width="2" />
<line x1="479.40" y1="37.50" x2="484.40" y2="37.50" stroke="#000" stroke-width="2" />
<text x="469" y="227.50" font-size="9.4" text-anchor="middle" transform="rotate(-90 469 227.50)">0%</text>
<text x="469" y="156.25" font-size="9.4" text-anchor="middle" transform="rotate(-90 469 156.25)">50%</text>
<text x="469" y="85.00" font-size="9.4" text-anchor="middle" transform="rotate(-90 469 85.00)">100%</text>
<line x1="484.50" y1="227.50" x2="484.50" y2="234.50" stroke="#000" stroke-width="2" />
<text x="484.50" y="248.50" font-size="10" text-anchor="middle" fill="#000" font-weight="normal" >-4</text>
<line x1="528.70" y1="227.50" x2="528.70" y2="234.50" stroke="#000" stroke-width="2" />
<text x="528.70" y="248.50" font-size="10" text-anchor="middle" fill="#000" font-weight="normal" >-2</text>
<line x1="572.90" y1="227.50" x2="572.90" y2="234.50" stroke="#000" stroke-width="2" />
<text x="572.90" y="248.50" font-size="10" text-anchor="middle" fill="#000" font-weight="normal" >0</text>
<line x1="617.10" y1="227.50" x2="617.10" y2="234.50" stroke="#000" stroke-width="2" />
<text x="617.10" y="248.50" font-size="10" text-anchor="middle" fill="#000" font-weight="normal" >2</text>
<line x1="661.30" y1="227.50" x2="661.30" y2="234.50" stroke="#000" stroke-width="2" />
<text x="661.30" y="248.50" font-size="10" text-anchor="middle" fill="#000" font-weight="normal" >4</text>
<text x="584.30" y="263.50" font-size="10.4" text-anchor="middle" fill="#000" font-weight="normal" textLength="40" lengthAdjust="spacingAndGlyphs">LogC(nM)</text>
<line x1="490.30" y1="42.30" x2="512.10" y2="42.30" stroke="#1443fa" stroke-width="1.4" />
<circle cx="500.90" cy="42.30" r="2.1" fill="#1443fa"/>
<text x="523.7" y="45.20" font-size="9.4" textLength="96.8" lengthAdjust="spacingAndGlyphs">CCK8s, EC<tspan font-size="6.3" dy="2">50</tspan><tspan dy="-2"> = 4.57 nM</tspan></text>
<line x1="491.40" y1="56.00" x2="513.20" y2="56.00" stroke="#ff4a2a" stroke-width="1.4" />
<rect x="500.90" y="53.90" width="4.2" height="4.2" fill="#ff2a10"/>
<text x="525.2" y="59.00" font-size="9.4" textLength="89.4" lengthAdjust="spacingAndGlyphs">MF-8, EC<tspan font-size="6.3" dy="2">50</tspan><tspan dy="-2"> = 4.54 nM</tspan></text>
<text x="443.80" y="288.80" font-size="10" text-anchor="start" fill="#000" font-weight="bold" >E</text>
<text x="550.50" y="292.90" font-size="10" text-anchor="start" fill="#000" font-weight="normal" textLength="67" lengthAdjust="spacingAndGlyphs">FRET Response</text>
<line x1="506.20" y1="310.80" x2="506.20" y2="330.40" stroke="#7f9cf7" stroke-width="0.9" />
<line x1="503.70" y1="310.80" x2="508.70" y2="310.80" stroke="#7f9cf7" stroke-width="0.9" />
<line x1="503.70" y1="330.40" x2="508.70" y2="330.40" stroke="#7f9cf7" stroke-width="0.9" />
<line x1="537.30" y1="311.00" x2="537.30" y2="323.00" stroke="#7f9cf7" stroke-width="0.9" />
<line x1="534.80" y1="311.00" x2="539.80" y2="311.00" stroke="#7f9cf7" stroke-width="0.9" />
<line x1="534.80" y1="323.00" x2="539.80" y2="323.00" stroke="#7f9cf7" stroke-width="0.9" />
<line x1="553.00" y1="330.40" x2="553.00" y2="348.30" stroke="#7f9cf7" stroke-width="0.9" />
<line x1="550.50" y1="330.40" x2="555.50" y2="330.40" stroke="#7f9cf7" stroke-width="0.9" />
<line x1="550.50" y1="348.30" x2="555.50" y2="348.30" stroke="#7f9cf7" stroke-width="0.9" />
<line x1="568.00" y1="323.70" x2="568.00" y2="357.00" stroke="#7f9cf7" stroke-width="0.9" />
<line x1="565.50" y1="323.70" x2="570.50" y2="323.70" stroke="#7f9cf7" stroke-width="0.9" />
<line x1="565.50" y1="357.00" x2="570.50" y2="357.00" stroke="#7f9cf7" stroke-width="0.9" />
<line x1="583.80" y1="339.40" x2="583.80" y2="358.00" stroke="#7f9cf7" stroke-width="0.9" />
<line x1="581.30" y1="339.40" x2="586.30" y2="339.40" stroke="#7f9cf7" stroke-width="0.9" />
<line x1="581.30" y1="358.00" x2="586.30" y2="358.00" stroke="#7f9cf7" stroke-width="0.9" />
<line x1="599.20" y1="340.50" x2="599.20" y2="367.30" stroke="#7f9cf7" stroke-width="0.9" />
<line x1="596.70" y1="340.50" x2="601.70" y2="340.50" stroke="#7f9cf7" stroke-width="0.9" />
<line x1="596.70" y1="367.30" x2="601.70" y2="367.30" stroke="#7f9cf7" stroke-width="0.9" />
<line x1="614.90" y1="358.00" x2="614.90" y2="382.30" stroke="#7f9cf7" stroke-width="0.9" />
<line x1="612.40" y1="358.00" x2="617.40" y2="358.00" stroke="#7f9cf7" stroke-width="0.9" />
<line x1="612.40" y1="382.30" x2="617.40" y2="382.30" stroke="#7f9cf7" stroke-width="0.9" />
<line x1="630.60" y1="368.00" x2="630.60" y2="392.30" stroke="#7f9cf7" stroke-width="0.9" />
<line x1="628.10" y1="368.00" x2="633.10" y2="368.00" stroke="#7f9cf7" stroke-width="0.9" />
<line x1="628.10" y1="392.30" x2="633.10" y2="392.30" stroke="#7f9cf7" stroke-width="0.9" />
<line x1="646.00" y1="371.60" x2="646.00" y2="388.70" stroke="#7f9cf7" stroke-width="0.9" />
<line x1="643.50" y1="371.60" x2="648.50" y2="371.60" stroke="#7f9cf7" stroke-width="0.9" />
<line x1="643.50" y1="388.70" x2="648.50" y2="388.70" stroke="#7f9cf7" stroke-width="0.9" />
<line x1="661.70" y1="365.50" x2="661.70" y2="379.80" stroke="#7f9cf7" stroke-width="0.9" />
<line x1="659.20" y1="365.50" x2="664.20" y2="365.50" stroke="#7f9cf7" stroke-width="0.9" />
<line x1="659.20" y1="379.80" x2="664.20" y2="379.80" stroke="#7f9cf7" stroke-width="0.9" />
<line x1="506.20" y1="299.50" x2="506.20" y2="317.20" stroke="#ff7a60" stroke-width="0.9" />
<line x1="503.70" y1="299.50" x2="508.70" y2="299.50" stroke="#ff7a60" stroke-width="0.9" />
<line x1="503.70" y1="317.20" x2="508.70" y2="317.20" stroke="#ff7a60" stroke-width="0.9" />
<line x1="521.50" y1="309.00" x2="521.50" y2="336.50" stroke="#ff7a60" stroke-width="0.9" />
<line x1="519.00" y1="309.00" x2="524.00" y2="309.00" stroke="#ff7a60" stroke-width="0.9" />
<line x1="519.00" y1="336.50" x2="524.00" y2="336.50" stroke="#ff7a60" stroke-width="0.9" />
<line x1="537.30" y1="299.50" x2="537.30" y2="307.00" stroke="#ff7a60" stroke-width="0.9" />
<line x1="534.80" y1="299.50" x2="539.80" y2="299.50" stroke="#ff7a60" stroke-width="0.9" />
<line x1="534.80" y1="307.00" x2="539.80" y2="307.00" stroke="#ff7a60" stroke-width="0.9" />
<line x1="553.00" y1="301.80" x2="553.00" y2="330.40" stroke="#ff7a60" stroke-width="0.9" />
<line x1="550.50" y1="301.80" x2="555.50" y2="301.80" stroke="#ff7a60" stroke-width="0.9" />
<line x1="550.50" y1="330.40" x2="555.50" y2="330.40" stroke="#ff7a60" stroke-width="0.9" />
<line x1="568.00" y1="324.40" x2="568.00" y2="358.00" stroke="#ff7a60" stroke-width="0.9" />
<line x1="565.50" y1="324.40" x2="570.50" y2="324.40" stroke="#ff7a60" stroke-width="0.9" />
<line x1="565.50" y1="358.00" x2="570.50" y2="358.00" stroke="#ff7a60" stroke-width="0.9" />
<line x1="583.80" y1="355.50" x2="583.80" y2="389.40" stroke="#ff7a60" stroke-width="0.9" />
<line x1="581.30" y1="355.50" x2="586.30" y2="355.50" stroke="#ff7a60" stroke-width="0.9" />
<line x1="581.30" y1="389.40" x2="586.30" y2="389.40" stroke="#ff7a60" stroke-width="0.9" />
<line x1="599.20" y1="354.40" x2="599.20" y2="378.70" stroke="#ff7a60" stroke-width="0.9" />
<line x1="596.70" y1="354.40" x2="601.70" y2="354.40" stroke="#ff7a60" stroke-width="0.9" />
<line x1="596.70" y1="378.70" x2="601.70" y2="378.70" stroke="#ff7a60" stroke-width="0.9" />
<line x1="614.90" y1="354.40" x2="614.90" y2="406.00" stroke="#ff7a60" stroke-width="0.9" />
<line x1="612.40" y1="354.40" x2="617.40" y2="354.40" stroke="#ff7a60" stroke-width="0.9" />
<line x1="612.40" y1="406.00" x2="617.40" y2="406.00" stroke="#ff7a60" stroke-width="0.9" />
<line x1="630.60" y1="365.00" x2="630.60" y2="427.60" stroke="#ff7a60" stroke-width="0.9" />
<line x1="628.10" y1="365.00" x2="633.10" y2="365.00" stroke="#ff7a60" stroke-width="0.9" />
<line x1="628.10" y1="427.60" x2="633.10" y2="427.60" stroke="#ff7a60" stroke-width="0.9" />
<line x1="646.00" y1="348.30" x2="646.00" y2="390.20" stroke="#ff7a60" stroke-width="0.9" />
<line x1="643.50" y1="348.30" x2="648.50" y2="348.30" stroke="#ff7a60" stroke-width="0.9" />
<line x1="643.50" y1="390.20" x2="648.50" y2="390.20" stroke="#ff7a60" stroke-width="0.9" />
<line x1="661.70" y1="385.00" x2="661.70" y2="421.50" stroke="#ff7a60" stroke-width="0.9" />
<line x1="659.20" y1="385.00" x2="664.20" y2="385.00" stroke="#ff7a60" stroke-width="0.9" />
<line x1="659.20" y1="421.50" x2="664.20" y2="421.50" stroke="#ff7a60" stroke-width="0.9" />
<polyline points="505.90,316.81 507.20,316.81 508.50,316.82 509.80,316.82 511.10,316.82 512.40,316.83 513.71,316.83 515.01,316.84 516.31,316.84 517.61,316.85 518.91,316.86 520.21,316.87 521.51,316.88 522.81,316.90 524.11,316.92 525.41,316.94 526.71,316.96 528.01,316.99 529.32,317.02 530.62,317.06 531.92,317.10 533.22,317.16 534.52,317.22 535.82,317.29 537.12,317.38 538.42,317.48 539.72,317.59 541.02,317.73 542.32,317.89 543.62,318.07 544.93,318.29 546.23,318.54 547.53,318.83 548.83,319.18 550.13,319.57 551.43,320.02 552.73,320.55 554.03,321.15 555.33,321.84 556.63,322.63 557.93,323.52 559.23,324.53 560.54,325.66 561.84,326.92 563.14,328.31 564.44,329.84 565.74,331.50 567.04,333.29 568.34,335.20 569.64,337.20 570.94,339.29 572.24,341.43 573.54,343.60 574.84,345.78 576.14,347.93 577.45,350.03 578.75,352.05 580.05,353.98 581.35,355.80 582.65,357.49 583.95,359.05 585.25,360.47 586.55,361.76 587.85,362.92 589.15,363.96 590.45,364.88 591.75,365.69 593.06,366.40 594.36,367.02 595.66,367.56 596.96,368.03 598.26,368.44 599.56,368.79 600.86,369.10 602.16,369.36 603.46,369.58 604.76,369.77 606.06,369.94 607.37,370.08 608.67,370.20 609.97,370.30 611.27,370.39 612.57,370.47 613.87,370.53 615.17,370.58 616.47,370.63 617.77,370.67 619.07,370.71 620.37,370.73 621.67,370.76 622.98,370.78 624.28,370.80 625.58,370.81 626.88,370.83 628.18,370.84 629.48,370.85 630.78,370.85 632.08,370.86 633.38,370.87 634.68,370.87 635.98,370.88 637.28,370.88 638.59,370.88 639.89,370.89 641.19,370.89 642.49,370.89 643.79,370.89 645.09,370.89 646.39,370.89 647.69,370.89 648.99,370.90 650.29,370.90 651.59,370.90 652.89,370.90 654.20,370.90 655.50,370.90 656.80,370.90 658.10,370.90 659.40,370.90 660.70,370.90 662.00,370.90" fill="none" stroke="#1443fa" stroke-width="1.5"/>
<rect x="504.20" y="318.80" width="4" height="4" fill="#1443fa"/>
<rect x="535.30" y="315.20" width="4" height="4" fill="#1443fa"/>
<rect x="551.00" y="336.70" width="4" height="4" fill="#1443fa"/>
<rect x="566.00" y="339.20" width="4" height="4" fill="#1443fa"/>
<rect x="581.80" y="346.70" width="4" height="4" fill="#1443fa"/>
<rect x="597.20" y="351.70" width="4" height="4" fill="#1443fa"/>
<rect x="612.90" y="366.70" width="4" height="4" fill="#1443fa"/>
<rect x="628.60" y="378.50" width="4" height="4" fill="#1443fa"/>
<rect x="644.00" y="376.00" width="4" height="4" fill="#1443fa"/>
<rect x="659.70" y="370.60" width="4" height="4" fill="#1443fa"/>
<polyline points="505.90,309.02 507.20,309.02 508.50,309.03 509.80,309.03 511.10,309.04 512.40,309.05 513.71,309.06 515.01,309.07 516.31,309.08 517.61,309.09 518.91,309.11 520.21,309.12 521.51,309.15 522.81,309.17 524.11,309.20 525.41,309.24 526.71,309.28 528.01,309.33 529.32,309.38 530.62,309.45 531.92,309.53 533.22,309.62 534.52,309.73 535.82,309.85 537.12,310.00 538.42,310.17 539.72,310.37 541.02,310.61 542.32,310.88 543.62,311.20 544.93,311.57 546.23,312.00 547.53,312.50 548.83,313.08 550.13,313.74 551.43,314.51 552.73,315.39 554.03,316.39 555.33,317.54 556.63,318.83 557.93,320.28 559.23,321.91 560.54,323.72 561.84,325.70 563.14,327.87 564.44,330.22 565.74,332.73 567.04,335.38 568.34,338.16 569.64,341.03 570.94,343.96 572.24,346.92 573.54,349.85 574.84,352.73 576.14,355.53 577.45,358.20 578.75,360.73 580.05,363.10 581.35,365.30 582.65,367.31 583.95,369.14 585.25,370.79 586.55,372.27 587.85,373.59 589.15,374.75 590.45,375.77 591.75,376.67 593.06,377.45 594.36,378.13 595.66,378.72 596.96,379.23 598.26,379.67 599.56,380.05 600.86,380.38 602.16,380.66 603.46,380.90 604.76,381.10 606.06,381.28 607.37,381.43 608.67,381.56 609.97,381.67 611.27,381.76 612.57,381.84 613.87,381.91 615.17,381.97 616.47,382.02 617.77,382.06 619.07,382.09 620.37,382.12 621.67,382.15 622.98,382.17 624.28,382.19 625.58,382.21 626.88,382.22 628.18,382.23 629.48,382.24 630.78,382.25 632.08,382.26 633.38,382.26 634.68,382.27 635.98,382.27 637.28,382.28 638.59,382.28 639.89,382.28 641.19,382.29 642.49,382.29 643.79,382.29 645.09,382.29 646.39,382.29 647.69,382.29 648.99,382.29 650.29,382.30 651.59,382.30 652.89,382.30 654.20,382.30 655.50,382.30 656.80,382.30 658.10,382.30 659.40,382.30 660.70,382.30 662.00,382.30" fill="none" stroke="#ff3a14" stroke-width="1.5"/>
<rect x="504.20" y="305.20" width="4" height="4" fill="#ff3a14"/>
<rect x="519.50" y="320.20" width="4" height="4" fill="#ff3a14"/>
<rect x="535.30" y="298.80" width="4" height="4" fill="#ff3a14"/>
<rect x="551.00" y="314.80" width="4" height="4" fill="#ff3a14"/>
<rect x="566.00" y="339.20" width="4" height="4" fill="#ff3a14"/>
<rect x="581.80" y="368.50" width="4" height="4" fill="#ff3a14"/>
<rect x="597.20" y="364.20" width="4" height="4" fill="#ff3a14"/>
<rect x="612.90" y="378.90" width="4" height="4" fill="#ff3a14"/>
<rect x="628.60" y="394.20" width="4" height="4" fill="#ff3a14"/>
<rect x="644.00" y="365.30" width="4" height="4" fill="#ff3a14"/>
<rect x="659.70" y="393.70" width="4" height="4" fill="#ff3a14"/>
<line x1="484.00" y1="298.20" x2="484.00" y2="499.40" stroke="#000" stroke-width="2" />
<line x1="483.00" y1="299.20" x2="684.90" y2="299.20" stroke="#000" stroke-width="2" />
<line x1="683.90" y1="298.20" x2="683.90" y2="499.40" stroke="#000" stroke-width="2" />
<line x1="483.00" y1="498.40" x2="684.90" y2="498.40" stroke="#000" stroke-width="2" />
<line x1="475.50" y1="299.20" x2="484.00" y2="299.20" stroke="#000" stroke-width="2" />
<text x="472" y="299.20" font-size="9.4" text-anchor="middle" transform="rotate(-90 472 299.20)">0.00</text>
<line x1="475.50" y1="349.00" x2="484.00" y2="349.00" stroke="#000" stroke-width="2" />
<text x="472" y="349.00" font-size="9.4" text-anchor="middle" transform="rotate(-90 472 349.00)">-0.01</text>
<line x1="475.50" y1="398.80" x2="484.00" y2="398.80" stroke="#000" stroke-width="2" />
<text x="472" y="398.80" font-size="9.4" text-anchor="middle" transform="rotate(-90 472 398.80)">-0.02</text>
<line x1="475.50" y1="448.60" x2="484.00" y2="448.60" stroke="#000" stroke-width="2" />
<text x="472" y="448.60" font-size="9.4" text-anchor="middle" transform="rotate(-90 472 448.60)">-0.03</text>
<line x1="475.50" y1="498.40" x2="484.00" y2="498.40" stroke="#000" stroke-width="2" />
<text x="472" y="498.40" font-size="9.4" text-anchor="middle" transform="rotate(-90 472 498.40)">-0.04</text>
<line x1="479.00" y1="324.10" x2="484.00" y2="324.10" stroke="#000" stroke-width="2" />
<line x1="479.00" y1="373.90" x2="484.00" y2="373.90" stroke="#000" stroke-width="2" />
<line x1="479.00" y1="423.70" x2="484.00" y2="423.70" stroke="#000" stroke-width="2" />
<line x1="479.00" y1="473.50" x2="484.00" y2="473.50" stroke="#000" stroke-width="2" />
<text x="462" y="402" font-size="9.4" text-anchor="middle" textLength="46.3" lengthAdjust="spacingAndGlyphs" transform="rotate(-90 462 402)">FRET Ratio</text>
<line x1="483.60" y1="498.40" x2="483.60" y2="506.40" stroke="#000" stroke-width="2" />
<text x="483.60" y="517.80" font-size="10" text-anchor="middle" fill="#000" font-weight="normal" >-4</text>
<line x1="528.20" y1="498.40" x2="528.20" y2="506.40" stroke="#000" stroke-width="2" />
<text x="528.20" y="517.80" font-size="10" text-anchor="middle" fill="#000" font-weight="normal" >-2</text>
<line x1="572.80" y1="498.40" x2="572.80" y2="506.40" stroke="#000" stroke-width="2" />
<text x="572.80" y="517.80" font-size="10" text-anchor="middle" fill="#000" font-weight="normal" >0</text>
<line x1="617.40" y1="498.40" x2="617.40" y2="506.40" stroke="#000" stroke-width="2" />
<text x="617.40" y="517.80" font-size="10" text-anchor="middle" fill="#000" font-weight="normal" >2</text>
<line x1="662.00" y1="498.40" x2="662.00" y2="506.40" stroke="#000" stroke-width="2" />
<text x="662.00" y="517.80" font-size="10" text-anchor="middle" fill="#000" font-weight="normal" >4</text>
<text x="560.80" y="528.70" font-size="10.4" text-anchor="middle" fill="#000" font-weight="normal" textLength="40.2" lengthAdjust="spacingAndGlyphs">Log(C)nM</text>
<line x1="488.30" y1="466.90" x2="510.50" y2="466.90" stroke="#1443fa" stroke-width="1.3" />
<rect x="497" y="464.90" width="4" height="4" fill="#1443fa"/>
<text x="521.5" y="470.30" font-size="9.4" xml:space="preserve">CCK8s  1.1nM</text>
<line x1="488.30" y1="485.90" x2="510.50" y2="485.90" stroke="#ff3a14" stroke-width="1.3" />
<rect x="497" y="483.90" width="4" height="4" fill="#ff3a14"/>
<text x="521.5" y="489.30" font-size="9.4" xml:space="preserve">MF-8     0.9nM</text>
<text x="23.60" y="289.50" font-size="10" text-anchor="start" fill="#000" font-weight="bold" >D</text>
<defs><linearGradient id="mb" x1="0" y1="0" x2="0" y2="1"><stop offset="0" stop-color="#fbeeea" stop-opacity="0.8"/><stop offset="0.4" stop-color="#f6dbd2"/><stop offset="0.8" stop-color="#f0c5b8"/><stop offset="1" stop-color="#f3d0c6" stop-opacity="0.7"/></linearGradient><filter id="bl" x="-10%" y="-50%" width="120%" height="200%"><feGaussianBlur stdDeviation="5 1.8"/></filter></defs>
<rect x="153" y="429.5" width="208" height="30.5" fill="url(#mb)" filter="url(#bl)"/>
<line x1="152.00" y1="428.50" x2="358.00" y2="428.50" stroke="#3a3a3a" stroke-width="0.8" />
<line x1="152.00" y1="461.40" x2="358.00" y2="461.40" stroke="#3a3a3a" stroke-width="0.8" />
<polyline points="271.3,328.3 248.3,319.6 264.2,332.7 244.6,327.9 257.8,337.7 239.8,333.5 250.7,341.3 232.4,341.3" fill="none" stroke="#2020f4" stroke-width="1.5" stroke-linejoin="miter"/>
<polyline points="239.8,337.2 232.4,341.3 240.5,345.2" fill="none" stroke="#2020f4" stroke-width="1.5"/>
<polyline points="202.7,345.6 183.2,354.9 201.4,354.3 185.4,362.4 202.7,363.2 187.5,370.2 202.7,369.5 189.7,382.5" fill="none" stroke="#44e030" stroke-width="1.4"/>
<polyline points="191.9,374.7 189.7,382.5 198,379.9" fill="none" stroke="#44e030" stroke-width="1.4"/>
<polyline points="175.7,395.2 163.4,394.7 180.3,409.5 160.1,400.1 172.6,413.1 157.1,408.7 169.3,418.2 151.6,417.9" fill="none" stroke="#f26a26" stroke-width="1.3"/>
<polyline points="158.8,414.1 151.6,417.9 158.3,421.3" fill="none" stroke="#f26a26" stroke-width="1.3"/>
<path d="M195,400.5 C200,405.5 207,407.5 224,411" fill="none" stroke="#7290a8" stroke-width="3"/>
<polygon points="183.4,385.8 196,386.3 200.3,398.5 189.6,405.5 179.6,397.5" fill="#e8223a"/>
<ellipse cx="248" cy="360.7" rx="12.7" ry="13" fill="#ead5c2" stroke="#86a8b0" stroke-width="0.9"/>
<polygon points="240.6,349.4 256,362 252.5,363.4 236.9,354.2" fill="#fff"/>
<polyline points="241,350 256,362 252.5,363.4 237.3,354" fill="none" stroke="#86a8b0" stroke-width="0.8" stroke-linejoin="round"/>
<polyline points="226.4,353.8 228,352 231,352.4 234,351.7 237,355 241.6,354.7 245.3,357 249.8,357.7 252.1,360 255.5,360.7" fill="none" stroke="#3cc020" stroke-width="1.5" stroke-linejoin="round"/>
<polyline points="218.5,342.4 221,347 226.4,353.8" fill="none" stroke="#3cb82a" stroke-width="1.3"/>
<polygon points="228.76,339.00 224.60,341.40 220.44,339.00 220.44,334.20 224.60,331.80 228.76,334.20" fill="#66dd22" stroke="#3fae1c" stroke-width="0.8"/>
<polygon points="222.66,344.80 218.50,347.20 214.34,344.80 214.34,340.00 218.50,337.60 222.66,340.00" fill="#66dd22" stroke="#3fae1c" stroke-width="0.8"/>
<polygon points="217.36,350.60 213.20,353.00 209.04,350.60 209.04,345.80 213.20,343.40 217.36,345.80" fill="#66dd22" stroke="#3fae1c" stroke-width="0.8"/>
<polygon points="230.56,356.20 226.40,358.60 222.24,356.20 222.24,351.40 226.40,349.00 230.56,351.40" fill="#66dd22" stroke="#3fae1c" stroke-width="0.8"/>
<path d="M248.7,373.5 q-3,3 0,5 q3,2 -1,4 q-2,2 1,4" fill="none" stroke="#5060b0" stroke-width="0.8"/>
<path d="M249,386.5 L261,382 L263.5,380" fill="none" stroke="#26358a" stroke-width="2.2" stroke-linecap="round"/>
<path d="M263,381.5 L255,390.5" fill="none" stroke="#3a4cb0" stroke-width="1.8" stroke-linecap="round"/>
<path d="M252,392 q-3,3 -6,3 q2,3 -3,5 q1,3 -3,5 q0,3 -4,5" fill="none" stroke="#5060b0" stroke-width="0.8"/>
<path d="M225,396 L230,412 L233,412 L229,398 Z" fill="#5cb040"/>
<path d="M229,397 L234,410 L236,409 Z" fill="#8ad060"/>
<path d="M225.5,419 L226,462" fill="none" stroke="#6c7cc8" stroke-width="6" stroke-linecap="round" opacity="0.45"/>
<path d="M225.5,419 L226,462" fill="none" stroke="#6c7cc8" stroke-width="6" stroke-dasharray="1.6 1.3"/>
<path d="M225.5,419 L226,462" fill="none" stroke="#4858a8" stroke-width="3.00" stroke-dasharray="1.0 1.9" opacity="0.7"/>
<path d="M230,417 L232,461" fill="none" stroke="#84c0e0" stroke-width="6" stroke-linecap="round" opacity="0.45"/>
<path d="M230,417 L232,461" fill="none" stroke="#84c0e0" stroke-width="6" stroke-dasharray="1.6 1.3"/>
<path d="M230,417 L232,461" fill="none" stroke="#5a9cc8" stroke-width="3.00" stroke-dasharray="1.0 1.9" opacity="0.7"/>
<path d="M235,419 L238,462" fill="none" stroke="#6cb4d4" stroke-width="5.5" stroke-linecap="round" opacity="0.45"/>
<path d="M235,419 L238,462" fill="none" stroke="#6cb4d4" stroke-width="5.5" stroke-dasharray="1.6 1.3"/>
<path d="M235,419 L238,462" fill="none" stroke="#4890b4" stroke-width="2.75" stroke-dasharray="1.0 1.9" opacity="0.7"/>
<path d="M239,426 L247,468" fill="none" stroke="#6cbc6c" stroke-width="6.5" stroke-linecap="round" opacity="0.45"/>
<path d="M239,426 L247,468" fill="none" stroke="#6cbc6c" stroke-width="6.5" stroke-dasharray="1.6 1.3"/>
<path d="M239,426 L247,468" fill="none" stroke="#449844" stroke-width="3.25" stroke-dasharray="1.0 1.9" opacity="0.7"/>
<path d="M243,420 L247,458" fill="none" stroke="#e88040" stroke-width="5.5" stroke-linecap="round" opacity="0.45"/>
<path d="M243,420 L247,458" fill="none" stroke="#e88040" stroke-width="5.5" stroke-dasharray="1.6 1.3"/>
<path d="M243,420 L247,458" fill="none" stroke="#c05a20" stroke-width="2.75" stroke-dasharray="1.0 1.9" opacity="0.7"/>
<path d="M248,414 L252,462" fill="none" stroke="#dc8c3c" stroke-width="5" stroke-linecap="round" opacity="0.45"/>
<path d="M248,414 L252,462" fill="none" stroke="#dc8c3c" stroke-width="5" stroke-dasharray="1.6 1.3"/>
<path d="M248,414 L252,462" fill="none" stroke="#b06820" stroke-width="2.50" stroke-dasharray="1.0 1.9" opacity="0.7"/>
<path d="M252,420 L256,466" fill="none" stroke="#7cbc5c" stroke-width="5.5" stroke-linecap="round" opacity="0.45"/>
<path d="M252,420 L256,466" fill="none" stroke="#7cbc5c" stroke-width="5.5" stroke-dasharray="1.6 1.3"/>
<path d="M252,420 L256,466" fill="none" stroke="#549838" stroke-width="2.75" stroke-dasharray="1.0 1.9" opacity="0.7"/>
<path d="M256,412 L258,460" fill="none" stroke="#98c850" stroke-width="5" stroke-linecap="round" opacity="0.45"/>
<path d="M256,412 L258,460" fill="none" stroke="#98c850" stroke-width="5" stroke-dasharray="1.6 1.3"/>
<path d="M256,412 L258,460" fill="none" stroke="#6ea030" stroke-width="2.50" stroke-dasharray="1.0 1.9" opacity="0.7"/>
<path d="M258,422 L272,487" fill="none" stroke="#b8cc50" stroke-width="6" stroke-linecap="round" opacity="0.45"/>
<path d="M258,422 L272,487" fill="none" stroke="#b8cc50" stroke-width="6" stroke-dasharray="1.6 1.3"/>
<path d="M258,422 L272,487" fill="none" stroke="#8ea030" stroke-width="3.00" stroke-dasharray="1.0 1.9" opacity="0.7"/>
<path d="M249,462 L260,493" fill="none" stroke="#eca834" stroke-width="6" stroke-linecap="round" opacity="0.45"/>
<path d="M249,462 L260,493" fill="none" stroke="#eca834" stroke-width="6" stroke-dasharray="1.6 1.3"/>
<path d="M249,462 L260,493" fill="none" stroke="#c08018" stroke-width="3.00" stroke-dasharray="1.0 1.9" opacity="0.7"/>
<path d="M224.5,413 C231,411 239,414.5 242,424" fill="none" stroke="#4564c4" stroke-width="9" stroke-linecap="round"/>
<ellipse cx="251.5" cy="408.5" rx="1.8" ry="2.3" fill="none" stroke="#c0602a" stroke-width="1.3"/>
<ellipse cx="255.3" cy="408.2" rx="1.8" ry="2.3" fill="none" stroke="#c0602a" stroke-width="1.3"/>
<path d="M216,462 C220,458 226,466 230,462 C234,459 238,466 242,463 C246,460 250,466 254,464" fill="none" stroke="#e06838" stroke-width="2.2"/>
<path d="M224,466 C228,472 236,470 240,465" fill="none" stroke="#3a94d4" stroke-width="1.5"/>
<path d="M248,466 C252,470 256,470 258,466" fill="none" stroke="#40a840" stroke-width="1.6"/>
<path d="M217,462 C213,465 214,470 218,474 C220,480 216,484 218,488 C219,492 223,497 221,500 C224,505 230,508 238,505 C246,500 255,503 260,500 C270,497 282,501 297,507" fill="none" stroke="#d06050" stroke-width="0.7"/>
<path d="M269,487 C273,492 274,500 268,506 C262,510 262,516 254,518 C250,520 251,524 247,524" fill="none" stroke="#e8d060" stroke-width="0.8"/>
<text x="157.40" y="333.20" font-size="12.9" text-anchor="start" fill="#30c830" font-weight="normal" >Fluo-Halo</text>
<text x="68.40" y="356.60" font-size="12.9" text-anchor="start" fill="#30c830" font-weight="normal" >Emission 1: 520nm</text>
<text x="77.10" y="389.50" font-size="12.9" text-anchor="start" fill="#fd1a1a" font-weight="normal" >SRB-CCK5 probe</text>
<text x="39.00" y="424.20" font-size="12.9" text-anchor="start" fill="#fb1e22" font-weight="normal" >Emission 2: 586nm</text>
<text x="276.60" y="329.20" font-size="12.9" text-anchor="start" fill="#1a1aee" font-weight="normal" >Excitation: 475nm</text>
<text x="263.20" y="368.80" font-size="12.9" text-anchor="start" fill="#e8a878" font-weight="normal" >HaloTag</text>
<text x="293.40" y="418.60" font-size="12.9" text-anchor="start" fill="#857570" font-weight="normal" >Extracellular</text>
<text x="279.70" y="446.80" font-size="12.9" text-anchor="start" fill="#2a2aee" font-weight="normal" >CCKBR</text>
<text x="296.00" y="475.50" font-size="12.9" text-anchor="start" fill="#857570" font-weight="normal" >Intracellular</text>
</svg>
</body></html>
